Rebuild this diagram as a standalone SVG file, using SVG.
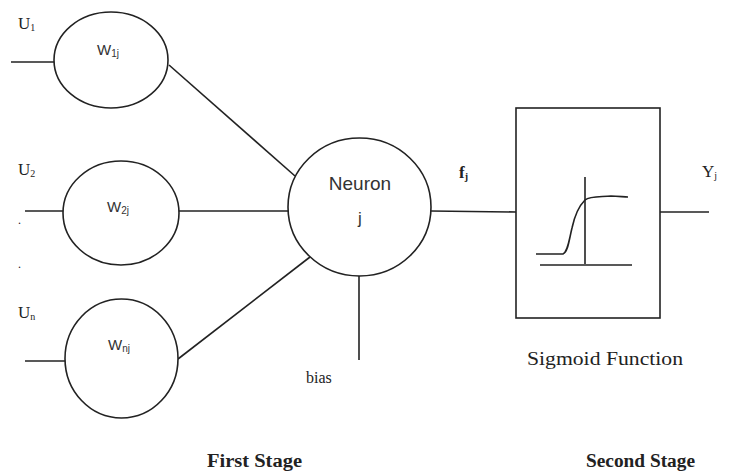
<svg xmlns="http://www.w3.org/2000/svg" width="732" height="473" viewBox="0 0 732 473">
  <style>
    .shape { fill: #fff; stroke: #222; stroke-width: 1.6; }
    .wire { fill: none; stroke: #222; stroke-width: 1.6; }
    .sans { font-family: "Liberation Sans", Arial, sans-serif; fill: #333; }
    .serif { font-family: "Liberation Serif", "Times New Roman", serif; fill: #222; }
    .sub { font-size: 10px; }
  </style>
  <rect width="732" height="473" fill="#fff"/>

  <!-- connectors -->
  <g id="connectors">
    <line class="wire" x1="11" y1="62" x2="54" y2="62"/>
    <line class="wire" x1="25" y1="211" x2="63" y2="211"/>
    <line class="wire" x1="25" y1="361" x2="65" y2="361"/>
    <line class="wire" x1="169" y1="65" x2="295" y2="176"/>
    <line class="wire" x1="179" y1="211" x2="288" y2="211"/>
    <line class="wire" x1="178" y1="359" x2="310" y2="257"/>
    <line class="wire" x1="359" y1="276" x2="359" y2="360"/>
    <line class="wire" x1="431" y1="211" x2="516" y2="212"/>
    <line class="wire" x1="660" y1="212" x2="709" y2="212"/>
  </g>

  <!-- input labels -->
  <g id="inputs">
    <text class="serif" x="18" y="29" font-size="17">U<tspan class="sub" dy="2">1</tspan></text>
    <text class="serif" x="18" y="175" font-size="17">U<tspan class="sub" dy="2">2</tspan></text>
    <text class="serif" x="18" y="318" font-size="17">U<tspan class="sub" dy="2">n</tspan></text>
    <text class="serif" x="18" y="224" font-size="12">.</text>
    <text class="serif" x="18" y="268" font-size="12">.</text>
  </g>

  <g id="w1">
    <ellipse class="shape" cx="111" cy="60" rx="57" ry="48"/>
    <text class="sans" x="97" y="55" font-size="15">W<tspan class="sub" dy="2">1j</tspan></text>
  </g>
  <g id="w2">
    <ellipse class="shape" cx="121" cy="213" rx="58" ry="52"/>
    <text class="sans" x="107" y="212" font-size="15">W<tspan class="sub" dy="2">2j</tspan></text>
  </g>
  <g id="wn">
    <ellipse class="shape" cx="121.5" cy="358.5" rx="56.5" ry="59.5"/>
    <text class="sans" x="108" y="350" font-size="15">W<tspan class="sub" dy="2">nj</tspan></text>
  </g>

  <g id="neuron">
    <ellipse class="shape" cx="359.5" cy="207" rx="71.5" ry="69"/>
    <text class="sans" x="360" y="190" font-size="19" text-anchor="middle">Neuron</text>
    <text class="sans" x="360" y="224" font-size="17" text-anchor="middle">j</text>
  </g>

  <g id="bias">
    <text class="serif" x="306" y="383" font-size="16">bias</text>
  </g>

  <g id="fj">
    <text class="serif" x="459" y="178" font-size="17" font-weight="bold">f<tspan class="sub" dy="2">j</tspan></text>
  </g>

  <g id="sigmoid">
    <rect class="shape" x="516" y="108" width="144" height="210"/>
    <line class="wire" x1="540" y1="265" x2="632" y2="265"/>
    <line class="wire" x1="585" y1="177" x2="585" y2="264"/>
    <path class="wire" d="M536 254 L563 254 C568 252 569 240 572 228 C575 214 579 206 585 200 C590 196 600 197 611 196 C618 196 624 197 628 197"/>
    <text class="serif" x="527" y="365" font-size="19" textLength="156" lengthAdjust="spacingAndGlyphs">Sigmoid Function</text>
  </g>

  <g id="yj">
    <text class="serif" x="702" y="177" font-size="17">Y<tspan class="sub" dy="2">j</tspan></text>
  </g>

  <g id="stages">
    <text class="serif" x="207" y="467" font-size="18" font-weight="bold" textLength="95" lengthAdjust="spacingAndGlyphs">First Stage</text>
    <text class="serif" x="586" y="467" font-size="18" font-weight="bold" textLength="109" lengthAdjust="spacingAndGlyphs">Second Stage</text>
  </g>
</svg>
